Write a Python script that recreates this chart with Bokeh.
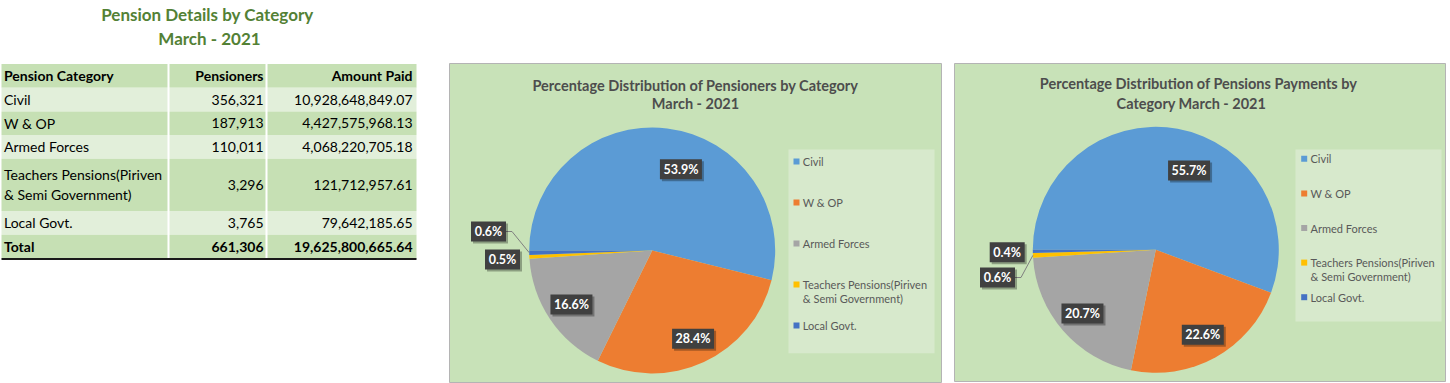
import math
from bokeh.plotting import figure
from bokeh.models import Range1d
from bokeh.embed import file_html
from bokeh.resources import INLINE
from bokeh.core.properties import value

# ---------------- data ----------------
categories = ["Civil", "W & OP", "Armed Forces",
              "Teachers Pensions(Piriven & Semi Government)", "Local Govt."]
category_lines = [["Civil"], ["W & OP"], ["Armed Forces"],
                  ["Teachers Pensions(Piriven", "& Semi Government)"], ["Local Govt."]]
pensioners = [356321, 187913, 110011, 3296, 3765]
amount_paid = [10928648849.07, 4427575968.13, 4068220705.18, 121712957.61, 79642185.65]
table_headers = ["Pension Category", "Pensioners", "Amount Paid"]
total_label = "Total"
page_title = ["Pension Details by  Category", "March - 2021"]
chart1_title = ["Percentage Distribution of Pensioners by Category", "March - 2021"]
chart2_title = ["Percentage Distribution of Pensions Payments by", "Category    March  - 2021"]
slice_colors = ["#5b9bd5", "#ed7d31", "#a5a5a5", "#ffc000", "#4472c4"]

# ---------------- layout ----------------
W, H = 1450, 383
sx = sy = 1.0
FONT = value("Lato")
BOLD = value("bold")


def Y(y):
    return -y


p = figure(width=W, height=H, x_range=Range1d(0, W), y_range=Range1d(-H, 0),
           output_backend="svg", toolbar_location=None, min_border=0)
p.xaxis.visible = False
p.yaxis.visible = False
p.xgrid.visible = False
p.ygrid.visible = False
p.outline_line_color = None
p.background_fill_color = "white"
p.border_fill_color = "white"

# ---------------- page title ----------------
p.text(x=[209, 209], y=[Y(14), Y(38)], text=page_title, text_font=FONT, text_font_size="17px",
       text_font_style=BOLD, text_color="#538135", text_align="center", text_baseline="middle")

# ---------------- table ----------------
col_edges = [1, 168, 266, 416]
table_top = 63.5
line_gap = 20
dark_row, light_row = "#c6e0b4", "#e2efda"

rows = [([table_headers[0]], table_headers[1], table_headers[2], True)]
for lines, pe, am in zip(category_lines, pensioners, amount_paid):
    rows.append((lines, f"{pe:,}", f"{am:,.2f}", False))
rows.append(([total_label], f"{sum(pensioners):,}", f"{sum(amount_paid):,.2f}", True))

tops, bottoms, fills = [], [], []
cur = table_top
txt = {"l": ([], [], [], []), "r1": ([], [], [], []), "r2": ([], [], [], [])}
for i, (lines, c2, c3, bold) in enumerate(rows):
    h = 23.7 + (len(lines) - 1) * 28.5
    tops.append(Y(cur))
    bottoms.append(Y(cur + h))
    fills.append(dark_row if i % 2 == 0 else light_row)
    mid = cur + h / 2
    for k, ln in enumerate(lines):
        yy = mid + (k - (len(lines) - 1) / 2) * line_gap
        txt["l"][0].append(col_edges[0] + 2.5)
        txt["l"][1].append(Y(yy))
        txt["l"][2].append(ln)
        txt["l"][3].append("bold" if bold else "normal")
    txt["r1"][0].append(col_edges[2] - 3)
    txt["r1"][1].append(Y(mid))
    txt["r1"][2].append(c2)
    txt["r1"][3].append("bold" if bold else "normal")
    txt["r2"][0].append(col_edges[3] - 4)
    txt["r2"][1].append(Y(mid))
    txt["r2"][2].append(c3)
    txt["r2"][3].append("bold" if bold else "normal")
    cur += h
table_bottom = cur

p.quad(left=col_edges[0], right=col_edges[-1], top=tops, bottom=bottoms, fill_color=fills, line_color=None)
p.segment(x0=col_edges[1:3], x1=col_edges[1:3], y0=Y(table_top), y1=Y(table_bottom),
          line_color="white", line_width=2)
p.segment(x0=[col_edges[0]], x1=[col_edges[-1]], y0=[Y(table_bottom + 0.5)], y1=[Y(table_bottom + 0.5)],
          line_color="#1a1a1a", line_width=2)

for key, align in (("l", "left"), ("r1", "right"), ("r2", "right")):
    xs, ys, ts, st = txt[key]
    for style in ("normal", "bold"):
        idx = [j for j in range(len(ts)) if st[j] == style]
        if idx:
            p.text(x=[xs[j] for j in idx], y=[ys[j] for j in idx], text=[ts[j] for j in idx],
                   text_font=FONT, text_font_size="14px", text_font_style=value(style),
                   text_color="#000000", text_align=align, text_baseline="middle")

# ---------------- pie charts ----------------
R_S = 123  # pie radius in screen px
Rx, Ry = R_S / sx, R_S / sy

charts = [
    dict(values=pensioners, title=chart1_title, left=449, right=941, top=63, bottom=382,
         cx=651.7, cy=250, title_x=695, title_y=[85, 103],
         legend_box=(788, 149, 934, 352.7), marker_x=796, text_x=802.3, legend_y=161, legend_gap=41,
         legend_line_gap=14.3,
         inside=[(12.5, 0.70), (0, 0.79), (0, 0.79), None, None],
         outside=[None, None, None, (-149.7, 9), (-163.7, -19)]),
    dict(values=amount_paid, title=chart2_title, left=954, right=1445, top=63, bottom=381,
         cx=1155.3, cy=249.3, title_x=1198, title_y=[83.3, 103.3],
         legend_box=(1295, 149, 1441, 321), marker_x=1303.7, text_x=1310, legend_y=158.3, legend_gap=34.6,
         legend_line_gap=13.7,
         inside=[(12.5, 0.70), (0, 0.79), (0, 0.79), None, None],
         outside=[None, None, None, (-158.3, 27.7), (-148.6, 2.4)]),
]

for ch in charts:
    # panel
    p.quad(left=[ch["left"]], right=[ch["right"]], top=[Y(ch["top"])], bottom=[Y(ch["bottom"])],
           fill_color="#c8e2b8", line_color="#b4b4b4", line_width=1)
    # titles
    p.text(x=[ch["title_x"]] * 2, y=[Y(v) for v in ch["title_y"]], text=ch["title"], text_font=FONT,
           text_font_size="14.5px", text_font_style=BOLD, text_color="#4d4d4d",
           text_align="center", text_baseline="middle")

    vals = ch["values"]
    tot = sum(vals)
    fracs = [v / tot for v in vals]
    start = 270.0
    th0s, th1s = [], []
    acc = start
    for f in fracs:
        th0s.append(acc)
        acc += f * 360
        th1s.append(acc)
    cx, cy = ch["cx"], ch["cy"]
    # wedges (clockwise from 12 o'clock -> math angles)
    p.wedge(x=[cx] * len(vals), y=[Y(cy)] * len(vals), radius=R_S, radius_units="screen",
            start_angle=[math.radians(90 - t1) for t1 in th1s],
            end_angle=[math.radians(90 - t0) for t0 in th0s],
            fill_color=slice_colors, line_color=None)

    lx, ly, lt = [], [], []
    leaders_x, leaders_y = [], []
    for i, f in enumerate(fracs):
        label = f"{f * 100:.1f}%"
        mid = (th0s[i] + th1s[i]) / 2
        if ch["inside"][i] is not None:
            dth, rf = ch["inside"][i]
            a = math.radians(mid + dth)
            x = cx + rf * Rx * math.sin(a)
            y = cy - rf * Ry * math.cos(a)
        else:
            dx, dy = ch["outside"][i]
            x, y = cx + dx, cy + dy
            a = math.radians(mid)
            ex = cx + Rx * math.sin(a)
            ey = cy - Ry * math.cos(a)
            bw = (7 * len(label) + 7) / sx
            bx = x + bw / 2
            if math.hypot(ex - bx, ey - y) > 15:
                leaders_x.append([bx, bx + 6, ex])
                leaders_y.append([Y(y), Y(y), Y(ey)])
        lx.append(x)
        ly.append(Y(y))
        lt.append(label)
    if leaders_x:
        p.multi_line(xs=leaders_x, ys=leaders_y, line_color="#7f7f7f", line_width=1)
    widths = [7 * len(t) + 7 for t in lt]
    p.rect(x=[v + 2 / sx for v in lx], y=[v - 2 / sy for v in ly], width=widths, height=20,
           width_units="screen", height_units="screen", fill_color="#000000", fill_alpha=0.3, line_color=None)
    p.rect(x=lx, y=ly, width=widths, height=20, width_units="screen", height_units="screen",
           fill_color="#404040", line_color=None)
    p.text(x=lx, y=ly, text=lt, text_font=FONT, text_font_size="12.5px", text_font_style=BOLD,
           text_color="white", text_align="center", text_baseline="middle")

    # legend
    l0, t0, r0, b0 = ch["legend_box"]
    p.quad(left=[l0], right=[r0], top=[Y(t0)], bottom=[Y(b0)], fill_color="#d7e9cc", line_color=None)
    mx, my, tx, ty, tt = [], [], [], [], []
    for i, lines in enumerate(category_lines):
        ybase = ch["legend_y"] + i * ch["legend_gap"]
        mx.append(ch["marker_x"])
        my.append(Y(ybase))
        for k, ln in enumerate(lines):
            tx.append(ch["text_x"])
            ty.append(Y(ybase + k * ch["legend_line_gap"]))
            tt.append(ln)
    p.rect(x=mx, y=my, width=6, height=6, width_units="screen", height_units="screen",
           fill_color=slice_colors, line_color=None)
    p.text(x=tx, y=ty, text=tt, text_font=FONT, text_font_size="11px", text_color="#595959",
           text_align="left", text_baseline="middle")

open("out.html", "w").write(file_html(p, INLINE))
